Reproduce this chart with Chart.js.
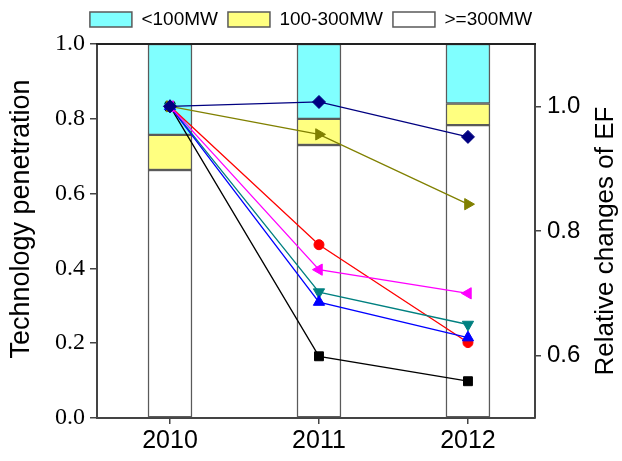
<!DOCTYPE html>
<html>
<head>
<meta charset="utf-8">
<script src="https://cdn.jsdelivr.net/npm/chart.js@4/dist/chart.umd.min.js"></script>
<style>
  html, body { margin: 0; padding: 0; background: #fff; }
  #wrap { width: 622px; height: 461px; }
</style>
</head>
<body>
<div id="wrap"><canvas id="c" width="622" height="461"></canvas></div>
<script>
// Years on the x axis
const years = [2010, 2011, 2012];

// Technology penetration shares by unit size (left axis, stacked)
const shareAbove300 = [0.663, 0.730, 0.783];
const share100to300 = [0.094, 0.070, 0.058];
const shareBelow100 = [0.243, 0.200, 0.159];

// Relative changes of EF (right axis)
const efNavy    = [1.000, 1.007, 0.951];
const efOlive   = [1.000, 0.955, 0.843];
const efMagenta = [1.000, 0.738, 0.700];
const efBlue    = [1.000, 0.686, 0.629];
const efTeal    = [1.000, 0.702, 0.650];
const efRed     = [1.000, 0.778, 0.621];
const efBlack   = [1.000, 0.599, 0.559];

// Tick values
const leftTicks  = [0, 0.2, 0.4, 0.6, 0.8, 1.0];
const rightTicks = [0.6, 0.8, 1.0];
const yearTicks  = [2010, 2011, 2012];

const pts = vals => vals.map((v, i) => ({ x: years[i], y: v }));

const AXIS = '#444';
Chart.defaults.font.family = "'Liberation Sans', Arial, sans-serif";
Chart.defaults.color = '#000';

function barSet(label, vals, fill) {
  return {
    type: 'bar', label, data: pts(vals), yAxisID: 'y', stack: 'share',
    backgroundColor: fill, borderColor: '#5a5a5a', borderWidth: 1.5,
    borderSkipped: false, barThickness: 44, order: 10
  };
}
function lineSet(label, vals, color, style, radius, rot, order) {
  return {
    type: 'line', label, data: pts(vals), yAxisID: 'y1',
    borderColor: color, backgroundColor: color, borderWidth: 1.3,
    pointStyle: style, pointRadius: radius, pointRotation: rot,
    pointBackgroundColor: color, pointBorderColor: color, pointBorderWidth: 1,
    tension: 0, fill: false, order
  };
}

// Axis titles (right one reads bottom-to-top) and the top frame line
const frameAndTitles = {
  id: 'frameAndTitles',
  afterInit(chart) {
    const lg = chart.legend;
    const fit = lg.fit.bind(lg);
    lg.fit = function () { fit(); this.height = 44; };
  },
  afterDraw(chart) {
    const { ctx, chartArea: a } = chart;
    ctx.save();
    ctx.strokeStyle = '#222';
    ctx.lineWidth = 2;
    ctx.beginPath();
    ctx.moveTo(a.left - 1, a.top);
    ctx.lineTo(a.right + 1, a.top);
    ctx.stroke();

    ctx.fillStyle = '#000';
    ctx.textAlign = 'center';
    ctx.textBaseline = 'middle';
    const mid = (a.top + a.bottom) / 2;

    ctx.font = "27px 'Liberation Sans', Arial, sans-serif";
    ctx.save();
    ctx.translate(a.left - 75, mid - 12);
    ctx.rotate(-Math.PI / 2);
    ctx.fillText('Technology penetration', 0, 0);
    ctx.restore();

    ctx.font = "26px 'Liberation Sans', Arial, sans-serif";
    ctx.save();
    ctx.translate(a.right + 71, mid + 10);
    ctx.rotate(-Math.PI / 2);
    ctx.fillText('Relative changes of EF', 0, 0);
    ctx.restore();
    ctx.restore();
  }
};

new Chart(document.getElementById('c'), {
  type: 'bar',
  data: {
    datasets: [
      barSet('>=300MW', shareAbove300, '#ffffff'),
      barSet('100-300MW', share100to300, '#ffff80'),
      barSet('<100MW', shareBelow100, '#80ffff'),
      lineSet('EF navy', efNavy, '#000080', 'rectRot', 6.5, 0, 0),
      lineSet('EF olive', efOlive, '#808000', 'triangle', 6.5, 90, 1),
      lineSet('EF magenta', efMagenta, '#ff00ff', 'triangle', 6.5, 270, 2),
      lineSet('EF blue', efBlue, '#0000ff', 'triangle', 6.5, 0, 3),
      lineSet('EF teal', efTeal, '#008080', 'triangle', 6.5, 180, 4),
      lineSet('EF red', efRed, '#ff0000', 'circle', 5, 0, 5),
      lineSet('EF black', efBlack, '#000000', 'rect', 6.3, 0, 6)
    ]
  },
  options: {
    responsive: false,
    animation: false,
    layout: { padding: 0 },
    plugins: {
      tooltip: { enabled: false },
      legend: {
        position: 'top',
        labels: {
          boxWidth: 42, boxHeight: 15, padding: 10,
          font: { size: 19 }, color: '#000',
          filter: item => item.datasetIndex < 3,
          sort: (a, b) => b.datasetIndex - a.datasetIndex
        }
      }
    },
    scales: {
      x: {
        type: 'linear', min: 2009.51, max: 2012.45, offset: false,
        afterBuildTicks: s => { s.ticks = yearTicks.map(v => ({ value: v })); },
        afterFit: s => { s.height = 43; },
        ticks: { font: { size: 25 }, color: '#000', padding: 2, callback: v => String(v) },
        grid: { display: true, offset: false, drawOnChartArea: false, drawTicks: true, tickLength: 6, color: AXIS, lineWidth: 1.5 },
        border: { display: true, color: AXIS, width: 2 }
      },
      y: {
        position: 'left', stacked: true, min: 0, max: 1,
        afterBuildTicks: s => { s.ticks = leftTicks.map(v => ({ value: v })); },
        afterFit: s => { s.width = 97; },
        ticks: { font: { family: "'Liberation Serif', 'Times New Roman', serif", size: 24 }, color: '#000', padding: 5, callback: v => v.toFixed(1) },
        grid: { display: true, drawOnChartArea: false, drawTicks: true, tickLength: 7, color: AXIS, lineWidth: 1.5 },
        border: { display: true, color: AXIS, width: 2 }
      },
      y1: {
        position: 'right', min: 0.5, max: 1.1,
        afterBuildTicks: s => { s.ticks = rightTicks.map(v => ({ value: v })); },
        afterFit: s => { s.width = 87; },
        ticks: { font: { size: 24 }, color: '#000', padding: 6, callback: v => v.toFixed(1) },
        grid: { display: true, drawOnChartArea: false, drawTicks: true, tickLength: 6, color: AXIS, lineWidth: 1.5 },
        border: { display: true, color: AXIS, width: 2 }
      }
    }
  },
  plugins: [frameAndTitles]
});
</script>
</body>
</html>
